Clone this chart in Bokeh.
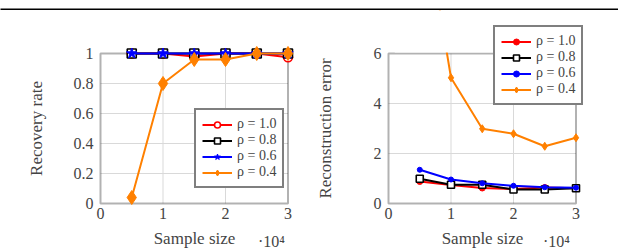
from bokeh.plotting import figure
from bokeh.layouts import column, row
from bokeh.models import Range1d, FixedTicker, Label, BoxAnnotation
from bokeh.embed import file_html
from bokeh.resources import INLINE

# ---------------- data ----------------
sample_size = [5000, 10000, 15000, 20000, 25000, 30000]
series_labels = ["ρ = 1.0", "ρ = 0.8", "ρ = 0.6", "ρ = 0.4"]

recovery_rho10 = [1.0, 1.0, 0.98, 1.0, 1.0, 0.975]
recovery_rho08 = [1.0, 1.0, 1.0, 1.0, 1.0, 1.0]
recovery_rho06 = [1.0, 1.0, 1.0, 1.0, 1.0, 1.0]
recovery_rho04 = [0.04, 0.80, 0.96, 0.96, 1.0, 1.0]

error_rho10 = [0.88, 0.74, 0.62, 0.58, 0.64, 0.61]
error_rho08 = [0.99, 0.75, 0.75, 0.56, 0.56, 0.61]
error_rho06 = [1.35, 0.96, 0.81, 0.71, 0.65, 0.63]
error_rho04 = [12.6, 5.03, 2.99, 2.79, 2.29, 2.63]

x_ticks = [0, 1, 2, 3]                      # in units of 10^4
x_tick_labels = ["0", "1", "2", "3"]
x_scale_label = "·10⁴"
recovery_ticks = [0, 0.2, 0.4, 0.6, 0.8, 1]
recovery_tick_labels = ["0", "0.2", "0.4", "0.6", "0.8", "1"]
error_ticks = [0, 2, 4, 6]
error_tick_labels = ["0", "2", "4", "6"]

# ---------------- style / geometry (pixels) ----------------
FONT = "Liberation Serif"
RED, BLACK, BLUE, ORANGE = "#ff0000", "#000000", "#0000ff", "#ff8000"
GRID = "#d9d9d9"
SCALE = 1e4
xs = [s / SCALE for s in sample_size]
H = 240          # canvas height of the two charts (below a 10px rule strip)
BOX_TOP = 43     # axis box top, from canvas top
BOX_H = 150      # axis box height
BOX_W = 187.5    # axis box width
X_MAX = 3


def base_fig(width, box_left, ytop, yticks, ylabels, ylabel, y_standoff):
    ppx = BOX_W / X_MAX
    ppy = BOX_H / ytop
    bottom = H - BOX_TOP - BOX_H
    p = figure(width=width, height=H, output_backend="svg", toolbar_location=None,
               x_range=Range1d(-box_left / ppx, X_MAX + (width - box_left - BOX_W) / ppx),
               y_range=Range1d(-bottom / ppy, ytop + BOX_TOP / ppy),
               min_border=0, title=None)
    p.outline_line_color = None
    p.xgrid.visible = False
    p.ygrid.visible = False
    for ax in (p.xaxis[0], p.yaxis[0]):
        ax.fixed_location = 0
        ax.axis_line_color = None
        ax.major_tick_in = 0
        ax.major_tick_out = 0
        ax.minor_tick_line_color = None
        ax.major_label_text_font = FONT
        ax.major_label_text_font_size = "16px"
        ax.axis_label_text_font = FONT
        ax.axis_label_text_font_size = "17px"
        ax.axis_label_text_font_style = "normal"
    p.xaxis.bounds = (0, X_MAX)
    p.xaxis.ticker = FixedTicker(ticks=x_ticks)
    p.xaxis.major_label_overrides = dict(zip(x_ticks, x_tick_labels))
    p.xaxis.major_label_standoff = 4
    p.xaxis.axis_label = "Sample size"
    p.xaxis.axis_label_standoff = 7
    p.yaxis.bounds = (0, ytop)
    p.yaxis.ticker = FixedTicker(ticks=yticks)
    p.yaxis.major_label_overrides = dict(zip(yticks, ylabels))
    p.yaxis.major_label_standoff = 7
    p.yaxis.axis_label = ylabel
    p.yaxis.axis_label_standoff = y_standoff
    # grid lines restricted to the axis box
    gx = [t for t in x_ticks if 0 < t < X_MAX]
    gy = [t for t in yticks if 0 < t < ytop]
    p.segment(x0=gx, x1=gx, y0=[0] * len(gx), y1=[ytop] * len(gx),
              line_color=GRID, line_width=1, level="image")
    p.segment(x0=[0] * len(gy), x1=[X_MAX] * len(gy), y0=gy, y1=gy,
              line_color=GRID, line_width=1, level="image")
    return p


def add_box(p, ytop):
    p.add_layout(BoxAnnotation(left=0, right=X_MAX, bottom=0, top=ytop, fill_alpha=0,
                               line_color="black", line_width=2, level="underlay"))


def style_legend(p, loc):
    lg = p.legend[0]
    lg.location = loc
    lg.label_text_font = FONT
    lg.label_text_font_size = "14px"
    lg.glyph_width = 30
    lg.glyph_height = 15
    lg.label_height = 15
    lg.label_standoff = 5
    lg.spacing = 0
    lg.padding = 6
    lg.margin = 0
    lg.border_line_color = "black"
    lg.border_line_width = 2
    lg.background_fill_alpha = 1


def add_exponent(p, dx):
    p.add_layout(Label(x=X_MAX, y=0, x_offset=dx, y_offset=-38, text=x_scale_label,
                       text_font=FONT, text_font_size="16px",
                       text_baseline="alphabetic", text_align="left"))


# ---------------- left: recovery rate ----------------
left = base_fig(309, 100, 1, recovery_ticks, recovery_tick_labels, "Recovery rate", 25)
add_box(left, 1)
left_series = [
    (recovery_rho10, RED, dict(marker="circle", size=9, fill_color="white", line_color=RED, line_width=1.6)),
    (recovery_rho08, BLACK, dict(marker="square", size=9, fill_color="white", line_color=BLACK, line_width=1.6)),
    (recovery_rho06, BLUE, dict(marker="star", size=11, fill_color=BLUE, line_color=BLUE, line_width=1)),
    (recovery_rho04, ORANGE, dict(marker="diamond", size=14, fill_color=ORANGE, line_color=ORANGE, line_width=1)),
]
for (ys, col, mk), lab in zip(left_series, series_labels):
    left.line(xs, ys, line_color=col, line_width=2, legend_label=lab)
    left.scatter(xs, ys, legend_label=lab, **mk)
style_legend(left, (194, 62))
add_exponent(left, -30)

# ---------------- right: reconstruction error ----------------
right = base_fig(309, 79, 6, error_ticks, error_tick_labels, "Reconstruction error", 36)
# white cover above the axis box (the curve is clipped at the top of the axis)
right.add_layout(BoxAnnotation(left=0.1, right=2.9, bottom=6.04, top=100, fill_color="white",
                               fill_alpha=1, line_color=None, level="guide"))
add_box(right, 6)
right_series = [
    (error_rho10, RED, dict(marker="circle", size=6, fill_color=RED, line_color=RED, line_width=1)),
    (error_rho08, BLACK, dict(marker="square", size=7, fill_color="white", line_color=BLACK, line_width=1.6)),
    (error_rho06, BLUE, dict(marker="circle", size=5, fill_color=BLUE, line_color=BLUE, line_width=1)),
    (error_rho04, ORANGE, dict(marker="diamond", size=8, fill_color=ORANGE, line_color=ORANGE, line_width=1)),
]
for (ys, col, mk), lab in zip(right_series, series_labels):
    right.line(xs, ys, line_color=col, line_width=2, legend_label=lab)
    right.scatter(xs, ys, legend_label=lab, **mk)
style_legend(right, (184, 145))
add_exponent(right, -33)

# ---------------- top rule ----------------
rule = figure(width=618, height=10, output_backend="svg", toolbar_location=None,
              x_axis_location=None, y_axis_location=None, title=None,
              min_border_left=0, min_border_right=0, min_border_top=6, min_border_bottom=1,
              background_fill_color="black", border_fill_color="white")
rule.outline_line_color = None
rule.xgrid.visible = False
rule.ygrid.visible = False

layout = column(rule, row(left, right))
open("out.html", "w").write(file_html(layout, INLINE))
